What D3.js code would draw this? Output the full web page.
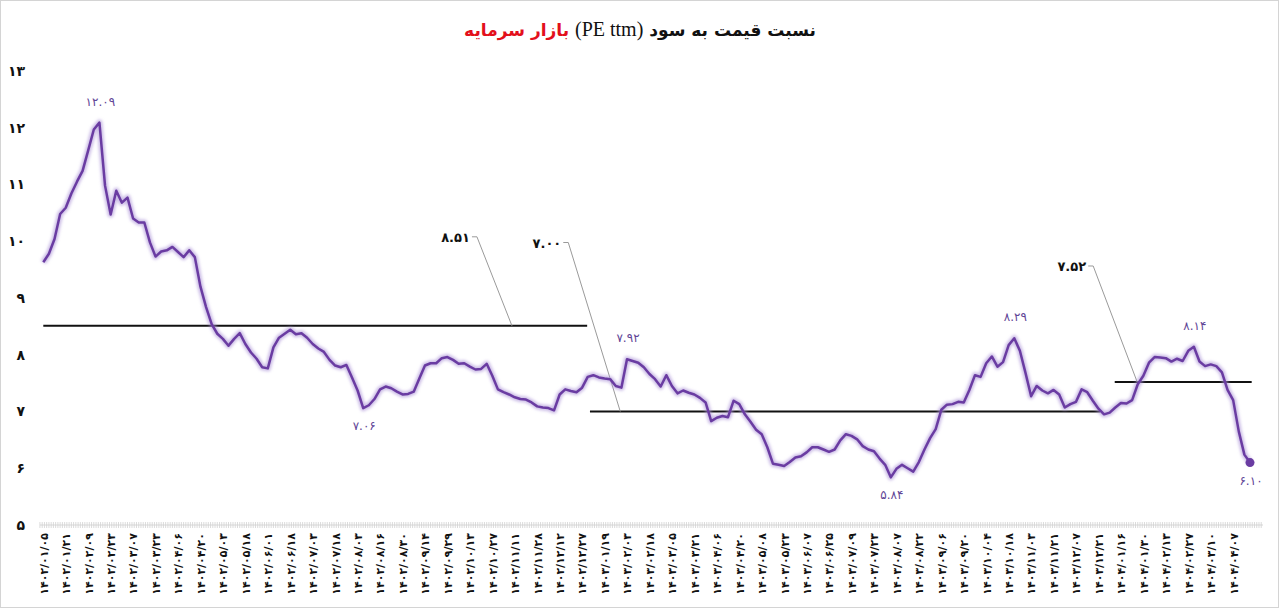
<!DOCTYPE html>
<html>
<head>
<meta charset="utf-8">
<script src="https://cdnjs.cloudflare.com/ajax/libs/d3/7.8.5/d3.min.js"></script>
<style>
body { margin: 0; background: #fff; }
#chart { position: relative; width: 1280px; height: 610px; }
#title {
    position: absolute; top: 18px; left: 0; width: 1280px;
    text-align: center; direction: rtl;
    font-family: "DejaVu Sans", sans-serif; font-weight: bold; font-size: 17px; color: #111;
}
#title .red { color: #e3101c; }
#title .lat { font-family: "Liberation Serif", serif; font-weight: normal; font-size: 20px; }
</style>
</head>
<body>
<div id="chart">
    <div id="title">نسبت قیمت به سود <span class="lat">(PE ttm)</span> <span class="red">بازار سرمایه</span></div>
</div>
<script>
// P/E ttm of the market, one value every ~2.5 trading days
var peValues = [
    9.63, 9.78, 10.04, 10.48, 10.59, 10.84, 11.05, 11.24, 11.60, 11.97,
    12.09, 10.98, 10.47, 10.89, 10.68, 10.77, 10.40, 10.33, 10.33, 9.98,
    9.73, 9.82, 9.84, 9.90, 9.81, 9.72, 9.84, 9.72, 9.20, 8.84,
    8.54, 8.37, 8.28, 8.16, 8.28, 8.38, 8.19, 8.04, 7.93, 7.78,
    7.76, 8.13, 8.30, 8.37, 8.44, 8.36, 8.38, 8.30, 8.19, 8.11,
    8.05, 7.91, 7.81, 7.78, 7.82, 7.60, 7.37, 7.06, 7.11, 7.22,
    7.39, 7.44, 7.41, 7.35, 7.30, 7.31, 7.35, 7.58, 7.81, 7.85,
    7.85, 7.94, 7.96, 7.91, 7.84, 7.85, 7.79, 7.74, 7.75, 7.84,
    7.63, 7.39, 7.34, 7.30, 7.25, 7.22, 7.21, 7.16, 7.09, 7.07,
    7.06, 7.02, 7.30, 7.39, 7.36, 7.34, 7.42, 7.61, 7.64, 7.60,
    7.58, 7.57, 7.45, 7.42, 7.92, 7.89, 7.86, 7.78, 7.66, 7.57,
    7.44, 7.64, 7.45, 7.32, 7.37, 7.33, 7.30, 7.24, 7.16, 6.83,
    6.89, 6.92, 6.90, 7.19, 7.13, 6.95, 6.82, 6.68, 6.60, 6.37,
    6.08, 6.06, 6.04, 6.11, 6.19, 6.21, 6.28, 6.37, 6.37, 6.33,
    6.29, 6.33, 6.49, 6.60, 6.57, 6.51, 6.39, 6.33, 6.30, 6.17,
    6.06, 5.84, 5.99, 6.06, 6.00, 5.94, 6.11, 6.33, 6.53, 6.69,
    7.03, 7.12, 7.13, 7.17, 7.16, 7.38, 7.64, 7.61, 7.85, 7.97,
    7.79, 7.87, 8.17, 8.29, 8.07, 7.68, 7.27, 7.45, 7.37, 7.32,
    7.38, 7.30, 7.07, 7.13, 7.17, 7.39, 7.34, 7.19, 7.05, 6.95,
    6.98, 7.07, 7.15, 7.14, 7.20, 7.48, 7.63, 7.86, 7.96, 7.95,
    7.94, 7.88, 7.93, 7.89, 8.07, 8.14, 7.88, 7.80, 7.83, 7.80,
    7.69, 7.38, 7.20, 6.65, 6.24, 6.10
];

// a date label on every 4th value
var labelEvery = 4;
var dateLabels = [
    "1402/01/05", "1402/01/21", "1402/02/09", "1402/02/23", "1402/03/07", "1402/03/23",
    "1402/04/06", "1402/04/20", "1402/05/03", "1402/05/18", "1402/06/01", "1402/06/18",
    "1402/07/03", "1402/07/18", "1402/08/03", "1402/08/16", "1402/08/30", "1402/09/14",
    "1402/09/29", "1402/10/13", "1402/10/27", "1402/11/11", "1402/11/28", "1402/12/12",
    "1402/12/27", "1403/01/19", "1403/02/03", "1403/02/18", "1403/03/05", "1403/03/21",
    "1403/04/06", "1403/04/20", "1403/05/08", "1403/05/23", "1403/06/07", "1403/06/25",
    "1403/07/09", "1403/07/23", "1403/08/07", "1403/08/22", "1403/09/06", "1403/09/20",
    "1403/10/04", "1403/10/18", "1403/11/03", "1403/11/21", "1403/12/07", "1403/12/21",
    "1404/01/16", "1404/01/30", "1404/02/13", "1404/02/27", "1404/03/10", "1404/04/07"
];

var yTicks = [5, 6, 7, 8, 9, 10, 11, 12, 13];

// period averages (value, from index, to index, where the note points)
var refValues = [8.51, 7.00, 7.52];
var refFrom = [0, 97.4, 190.9];
var refTo = [96.9, 188.3, 215.3];
var refNoteAt = [83.5, 102.8, 194.9];

// highs and lows that carry a value label
var markIndex = [10, 57, 104, 151, 173, 205, 215];
var markSide = ["up", "down", "up", "down", "up", "up", "down"];

var faDigits = "۰۱۲۳۴۵۶۷۸۹";
function fa(s) {
    return String(s).replace(/[0-9]/g, function(d) { return faDigits[+d]; });
}

function init()
{
    var w = 1280;
    var h = 610;
    var purple = "#6a3ca2";
    var noteOffset = [[-35, -89], [-52, -169], [-44, -116]];

    var svg = d3.select("#chart")
                .append("svg")
                .attr("width", w)
                .attr("height", h);

    svg.append("rect")
        .attr("x", 0.5).attr("y", 0.5)
        .attr("width", w - 2).attr("height", h - 3)
        .attr("fill", "none")
        .attr("stroke", "#d4d4d4");

    var defs = svg.append("defs");
    defs.append("filter")
        .attr("id", "glow")
        .attr("x", "-2%").attr("y", "-5%")
        .attr("width", "104%").attr("height", "110%")
        .append("feGaussianBlur")
        .attr("stdDeviation", 1.8);

    var xScale = d3.scaleLinear()
                    .domain([0, peValues.length - 1])
                    .range([43.3, 1250]);

    var yScale = d3.scaleLinear()
                    .domain([5, 13])
                    .range([525, 71]);

    //y axis, labels only
    var yAxis = d3.axisLeft(yScale)
                    .tickValues(yTicks)
                    .tickSize(0)
                    .tickPadding(0)
                    .tickFormat(function(d) { return fa(d); });

    var gy = svg.append("g")
        .attr("transform", "translate(25,0)")
        .call(yAxis);
    gy.select(".domain").remove();
    gy.selectAll("text")
        .attr("font-family", "DejaVu Sans")
        .attr("font-weight", "bold")
        .attr("font-size", "14px")
        .attr("fill", "#111");

    //x axis: grey line with dense small ticks
    var axisY = yScale(5);
    svg.append("line")
        .attr("x1", 40).attr("x2", 1263)
        .attr("y1", axisY).attr("y2", axisY)
        .attr("stroke", "#d6d6d6");

    svg.append("g")
        .selectAll("line")
        .data(d3.range(-0.6, peValues.length + 1.4, 0.4))
        .enter()
        .append("line")
        .attr("x1", function(d) { return xScale(d); })
        .attr("x2", function(d) { return xScale(d); })
        .attr("y1", axisY - 3)
        .attr("y2", axisY + 3)
        .attr("stroke", "#d2d2d2")
        .attr("stroke-width", 0.8);

    var xAxis = d3.axisBottom(xScale)
                    .tickValues(dateLabels.map(function(d, i) { return i * labelEvery; }))
                    .tickSize(0)
                    .tickFormat(function(d, i) { return fa(dateLabels[i]); });

    var gx = svg.append("g")
        .attr("transform", "translate(0," + axisY + ")")
        .call(xAxis);
    gx.select(".domain").remove();
    gx.selectAll("text")
        .attr("transform", "rotate(-90)")
        .attr("text-anchor", "end")
        .attr("x", -8)
        .attr("y", 0)
        .attr("dy", "0.35em")
        .attr("font-family", "DejaVu Sans")
        .attr("font-weight", "bold")
        .attr("font-size", "11px")
        .attr("fill", "#111");

    //average lines with their notes
    refValues.forEach(function(v, i) {
        var yy = yScale(v);
        svg.append("line")
            .attr("x1", xScale(refFrom[i]))
            .attr("x2", xScale(refTo[i]))
            .attr("y1", yy).attr("y2", yy)
            .attr("stroke", "#111")
            .attr("stroke-width", 2);

        var ax = xScale(refNoteAt[i]);
        var ex = ax + noteOffset[i][0];
        var ey = yy + noteOffset[i][1];
        svg.append("polyline")
            .attr("points", [[ax, yy], [ex, ey], [ex - 5, ey]].join(" "))
            .attr("fill", "none")
            .attr("stroke", "#9a9a9a")
            .attr("stroke-width", 1);

        svg.append("text")
            .attr("x", ex - 7)
            .attr("y", ey + 5)
            .attr("text-anchor", "end")
            .attr("font-family", "DejaVu Sans")
            .attr("font-weight", "bold")
            .attr("font-size", "13px")
            .attr("fill", "#111")
            .text(fa(v.toFixed(2)));
    });

    //P/E line
    var line = d3.line()
                .x(function(d, i) { return xScale(i); })
                .y(function(d) { return yScale(d); });

    svg.append("path")
        .datum(peValues)
        .attr("d", line)
        .attr("fill", "none")
        .attr("stroke", "#a88fd6")
        .attr("stroke-opacity", 0.6)
        .attr("stroke-width", 6)
        .attr("stroke-linejoin", "round")
        .attr("filter", "url(#glow)");

    svg.append("path")
        .datum(peValues)
        .attr("d", line)
        .attr("fill", "none")
        .attr("stroke", purple)
        .attr("stroke-width", 2.5)
        .attr("stroke-linejoin", "round");

    var last = peValues.length - 1;
    svg.append("circle")
        .attr("cx", xScale(last))
        .attr("cy", yScale(peValues[last]))
        .attr("r", 4.5)
        .attr("fill", purple);

    //value labels on highs and lows
    svg.selectAll("text.mark")
        .data(markIndex)
        .enter()
        .append("text")
        .attr("class", "mark")
        .attr("x", function(d) { return xScale(d) + 1; })
        .attr("y", function(d, i) {
            return yScale(peValues[d]) + (markSide[i] == "up" ? -17 : 22);
        })
        .attr("text-anchor", "middle")
        .attr("font-family", "DejaVu Sans")
        .attr("font-size", "12px")
        .attr("fill", "#5f4596")
        .text(function(d) { return fa(peValues[d].toFixed(2)); });
}
window.onload = init;
</script>
</body>
</html>
